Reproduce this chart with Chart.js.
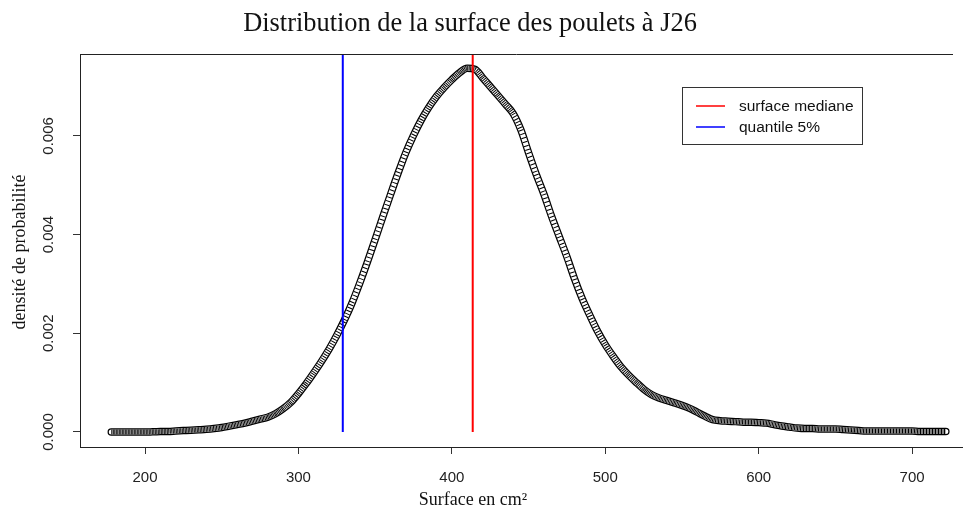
<!DOCTYPE html>
<html><head><meta charset="utf-8">
<script src="https://cdn.jsdelivr.net/npm/chart.js@4.4.1/dist/chart.umd.min.js"></script>
<style>html,body{margin:0;padding:0;background:#fff;overflow:hidden}canvas{display:block}</style>
</head><body>
<canvas id="c" width="963" height="513"></canvas>
<script>
const chartTitle = "Distribution de la surface des poulets à J26";
const xAxisTitle = "Surface en cm²";
const yAxisTitle = "densité de probabilité";

const surface = [178,185,190,195,200,205,210,215,220,225,230,235,240,245,250,255,260,265,270,275,
  280,285,290,295,300,305,310,315,320,325,330,335,340,345,350,355,360,365,370,375,
  380,385,390,395,400,405,410,415,420,425,430,435,440,445,450,455,460,465,470,475,
  480,485,490,495,500,505,510,515,520,525,530,535,540,545,550,555,560,565,570,575,
  580,585,590,595,600,605,610,615,620,625,630,635,640,645,650,655,660,665,670,675,
  680,685,690,695,700,705,710,715,722];
const density = [0,0,0,0,0,0.000004,0.000008,0.000012,0.00002,0.000028,0.000036,0.000045,0.000055,0.00007,0.00009,0.00012,0.00015,0.00018,0.00022,0.00026,
  0.0003,0.00037,0.00047,0.0006,0.00078,0.00098,0.0012,0.00143,0.00168,0.00196,0.00227,0.00262,0.00302,0.00345,0.0039,0.00436,0.00481,0.00525,0.00566,0.00601,
  0.00632,0.00658,0.0068,0.00698,0.00714,0.00728,0.00737,0.00735,0.00718,0.007,0.00682,0.00664,0.00645,0.00612,0.00566,0.00522,0.00482,0.00437,0.00396,0.00355,
  0.0031,0.0027,0.00236,0.00204,0.00177,0.00154,0.00133,0.00116,0.00101,0.00087,0.00076,0.00069,0.00064,0.00059,0.00054,0.00048,0.0004,0.00032,0.00025,0.00023,
  0.00022,0.00021,0.0002,0.0002,0.00019,0.00018,0.00015,0.00012,0.0001,0.00008,0.00007,0.00007,0.00006,0.00006,0.00006,0.00005,0.00004,0.00003,0.00002,0.00002,
  0.00002,0.00002,0.00002,0.00002,0.00002,0.00001,0.00001,0.00001,0.00001];

const medianSurface = 413.6;
const quantile5Surface = 328.9;
const lineTop = 0.0078;
const xTickValues = [200,300,400,500,600,700];
const yTickValues = [0,0.002,0.004,0.006];
const legendLabels = ["surface mediane","quantile 5%"];
const legendColors = ["#ff0000","#0000ff"];

const curve = surface.map((s,i)=>({x:s,y:density[i]}));

function ringDash(ctx){
  const dx = Math.abs(ctx.p1.x - ctx.p0.x) || 1;
  const len = Math.hypot(ctx.p1.x - ctx.p0.x, ctx.p1.y - ctx.p0.y);
  const s = 1.63 * len / dx;
  return [1, Math.max(0.5, s * 0.8 - 1)];
}

const decor = {
  id: 'decor',
  afterDraw(chart){
    const {ctx, chartArea:a} = chart;
    ctx.save();
    ctx.strokeStyle = '#222'; ctx.lineWidth = 1;
    ctx.beginPath(); ctx.moveTo(a.left, a.top + 0.5); ctx.lineTo(953, a.top + 0.5); ctx.stroke();
    ctx.fillStyle = '#111'; ctx.textAlign = 'center'; ctx.textBaseline = 'middle';
    ctx.font = '24px "Liberation Serif"';
    const w = ctx.measureText(chartTitle).width;
    const fs = 24 * 454 / w;
    ctx.font = fs.toFixed(1) + 'px "Liberation Serif"';
    ctx.fillText(chartTitle, 470, 24);
    ctx.font = '18px "Liberation Serif"';
    ctx.fillText(xAxisTitle, 473, 500);
    ctx.save();
    ctx.translate(20, 252); ctx.rotate(-Math.PI/2);
    ctx.fillText(yAxisTitle, 0, 0);
    ctx.restore();
    // legend
    ctx.fillStyle = '#fff';
    ctx.fillRect(682, 87, 181, 58);
    ctx.strokeStyle = '#333'; ctx.lineWidth = 1;
    ctx.strokeRect(682.5, 87.5, 180, 57);
    ctx.font = '15.5px "Liberation Sans"';
    ctx.textAlign = 'left';
    const rows = [106, 127];
    legendLabels.forEach((lab, i) => {
      ctx.strokeStyle = legendColors[i]; ctx.lineWidth = 1.5;
      ctx.beginPath(); ctx.moveTo(696, rows[i]); ctx.lineTo(725, rows[i]); ctx.stroke();
      ctx.fillStyle = '#111';
      ctx.fillText(lab, 739, rows[i] + 1);
    });
    ctx.restore();
  }
};

new Chart(document.getElementById('c'), {
  type: 'line',
  data: {
    datasets: [
      {label: legendLabels[0], data: [{x:medianSurface,y:0},{x:medianSurface,y:lineTop}], borderColor: legendColors[0], borderWidth: 2, pointRadius: 0, order: 0},
      {label: legendLabels[1], data: [{x:quantile5Surface,y:0},{x:quantile5Surface,y:lineTop}], borderColor: legendColors[1], borderWidth: 2, pointRadius: 0, order: 0},
      {label: 'densité', data: curve, borderColor: '#000', borderWidth: 5, pointRadius: 0, cubicInterpolationMode: 'monotone', borderCapStyle: 'butt', order: 1,
        segment: {borderDash: ringDash}},
      {label: 'densité-int', data: curve, borderColor: '#fff', borderWidth: 5, pointRadius: 0, cubicInterpolationMode: 'monotone', borderCapStyle: 'round', order: 2},
      {label: 'densité-ext', data: curve, borderColor: '#000', borderWidth: 7.5, pointRadius: 0, cubicInterpolationMode: 'monotone', borderCapStyle: 'round', order: 3}
    ]
  },
  options: {
    responsive: false, animation: false,
    layout: {padding: {top: 54, left: 0, right: 0, bottom: 0}},
    plugins: {legend: {display: false}, tooltip: {enabled: false}, title: {display: false}},
    scales: {
      x: {
        type: 'linear', min: 157.6, max: 733.2,
        afterBuildTicks: s => { s.ticks = xTickValues.map(v => ({value: v})); },
        afterFit: s => { s.height = 66; },
        grid: {drawOnChartArea: false, drawTicks: true, tickLength: 7, tickColor: '#333'},
        border: {display: true, color: '#222', width: 1},
        ticks: {padding: 15, color: '#222', font: {family: 'Liberation Sans', size: 15}, callback: v => String(v), maxRotation: 0}
      },
      y: {
        type: 'linear', min: -0.000304, max: 0.007659,
        afterBuildTicks: s => { s.ticks = yTickValues.map(v => ({value: v})); },
        afterFit: s => { s.width = 80; },
        grid: {drawOnChartArea: false, drawTicks: true, tickLength: 7, tickColor: '#333'},
        border: {display: true, color: '#222', width: 1},
        ticks: {padding: 5, color: '#222', font: {family: 'Liberation Sans', size: 15}, minRotation: 90, maxRotation: 90, crossAlign: 'center', callback: v => Number(v).toFixed(3)}
      }
    }
  },
  plugins: [decor]
});
</script>
</body></html>
